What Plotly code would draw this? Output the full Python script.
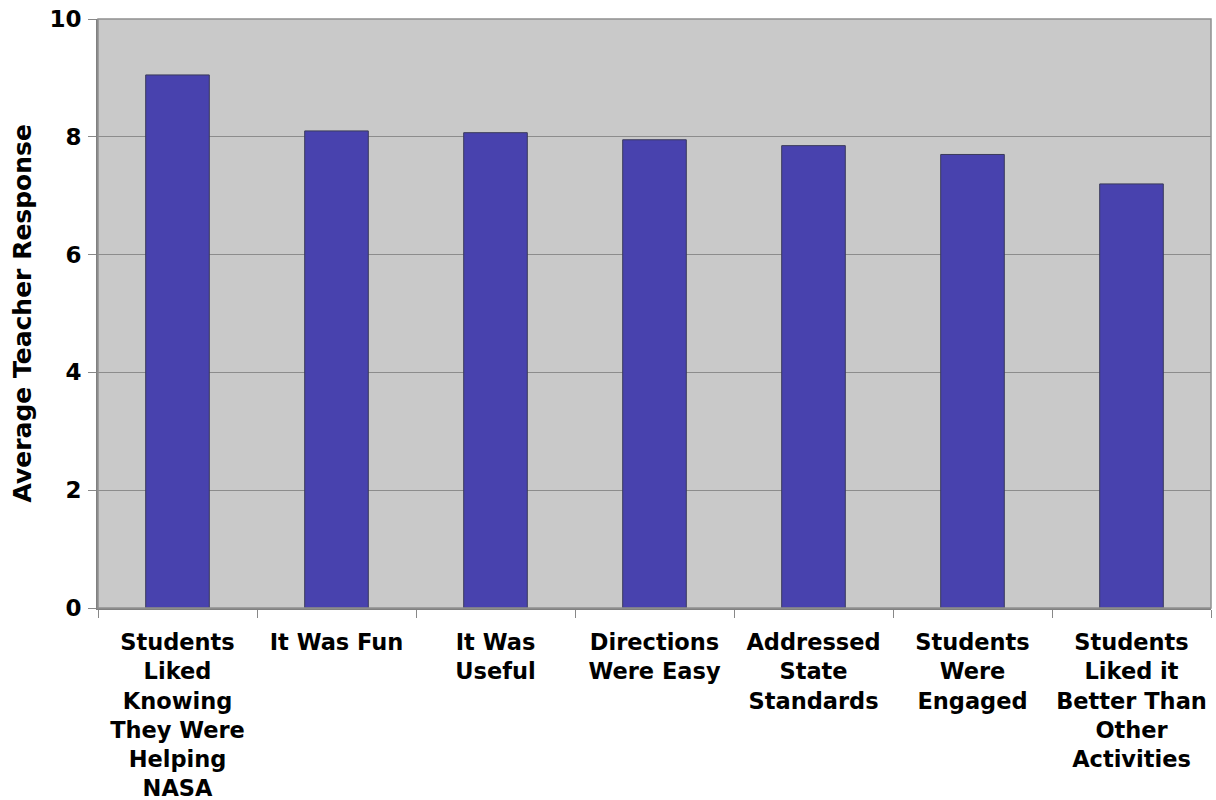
import plotly.graph_objects as go

categories = [
    "Students<br>Liked<br>Knowing<br>They Were<br>Helping<br>NASA",
    "It Was Fun",
    "It Was<br>Useful",
    "Directions<br>Were Easy",
    "Addressed<br>State<br>Standards",
    "Students<br>Were<br>Engaged",
    "Students<br>Liked it<br>Better Than<br>Other<br>Activities",
]
values = [9.05, 8.1, 8.07, 7.95, 7.85, 7.7, 7.2]
y_ticks = [0, 2, 4, 6, 8, 10]

FONT = "DejaVu Sans"

fig = go.Figure(go.Bar(
    x=categories, y=values, width=0.40,
    marker=dict(color="#4842AE", line=dict(color="#3a3a5a", width=1)),
))

fig.update_layout(
    width=1216, height=800,
    margin=dict(l=98, r=5, t=19, b=192),
    paper_bgcolor="white", plot_bgcolor="#C9C9C9",
    showlegend=False,
    font=dict(family=FONT, size=22, color="black"),
)
fig.update_yaxes(
    range=[0, 10], tickvals=y_ticks, ticks="outside", ticklen=8, tickcolor="#888",
    showgrid=True, gridcolor="#8c8c8c", gridwidth=1,
    showline=True, linecolor="#808080", linewidth=2, mirror=False,
    tickfont=dict(family=FONT, size=23, color="black", weight="bold"),
    ticklabelstandoff=2, ticklabeloverflow="allow",
    zeroline=False, automargin=False,
)
fig.update_xaxes(
    tickson="boundaries", ticks="outside", ticklen=8, tickcolor="#888",
    showline=True, linecolor="#808080", linewidth=2,
    tickfont=dict(family=FONT, size=22.5, color="black", weight="bold"),
    tickangle=0, ticklabelstandoff=13, ticklabeloverflow="allow", automargin=False,
)
fig.add_annotation(
    text="<b>Average Teacher Response</b>", textangle=-90,
    xref="paper", yref="paper", x=0, y=0.5, xanchor="center", yanchor="middle",
    xshift=-76, showarrow=False, font=dict(family=FONT, size=25, color="black"),
)
# right/top frame
fig.add_shape(type="rect", xref="paper", yref="paper", x0=0, x1=1, y0=0, y1=1,
              line=dict(color="#909090", width=1.5), fillcolor="rgba(0,0,0,0)", layer="above")

fig.write_html("out.html", config={"displayModeBar": False},
               post_script="document.body.style.margin='0';document.body.style.overflow='hidden';")
